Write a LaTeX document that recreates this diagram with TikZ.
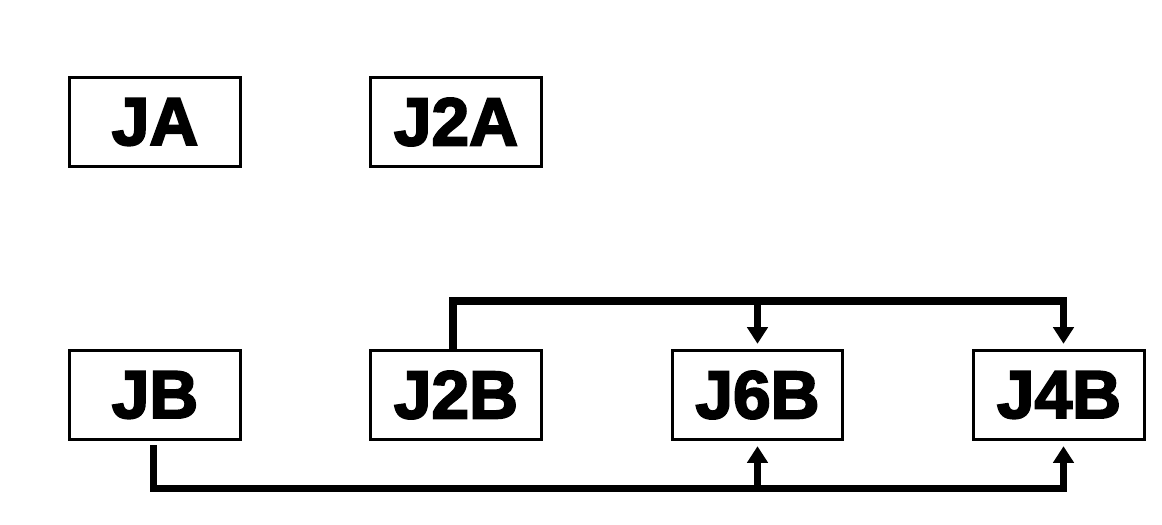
\documentclass[tikz,border=0pt]{standalone}
\usepackage{fontspec}
\newfontfamily\boxfont{Liberation Sans}[BoldFeatures={FakeBold=3}]
\usetikzlibrary{arrows.meta,calc}
\tikzset{
  jbox/.style={draw, line width=1.7pt, minimum width=97pt, minimum height=51pt,
    inner sep=0pt, font=\boxfont\bfseries\fontsize{38.5}{42}\selectfont},
  bus/.style={line width=4pt, line join=miter},
  tip/.style={-{Triangle[width=11.5pt,length=9.5pt]}, shorten >=2.8pt}
}
\begin{document}
\begin{tikzpicture}[x=0.02cm, y=0.02cm]
	\useasboundingbox (0,0) rectangle (1162,524);
	% upper row
	\node[jbox] (ja)  at (155,402) {JA};
	\node[jbox] (j2a) at (456,402) {J2A};
	% lower row
	\node[jbox] (jb)  at (155,129) {JB};
	\node[jbox] (j2b) at (456,129) {J2B};
	\node[jbox] (j6b) at (757.5,129) {J6B};
	\node[jbox] (j4b) at (1059,129) {J4B};
	\coordinate (toprail) at (0,223);
	\coordinate (botrail) at (0,35.5);
	% J2B feeds J6B and J4B from above
	\draw[bus,tip] ($(j2b.north)+(-3,0)$) |- ($(toprail -| j4b.north)+(4.5,0)$) -- ($(j4b.north)+(4.5,0)$);
	\draw[bus,tip] (toprail -| j6b.north) -- (j6b.north);
	% JB feeds J6B and J4B from below
	\draw[bus,tip,shorten <=2.3pt] ($(jb.south)+(-1.5,0)$) |- ($(botrail -| j4b.south)+(4.5,0)$) -- ($(j4b.south)+(4.5,0)$);
	\draw[bus,tip] (botrail -| j6b.south) -- (j6b.south);
\end{tikzpicture}
\end{document}
